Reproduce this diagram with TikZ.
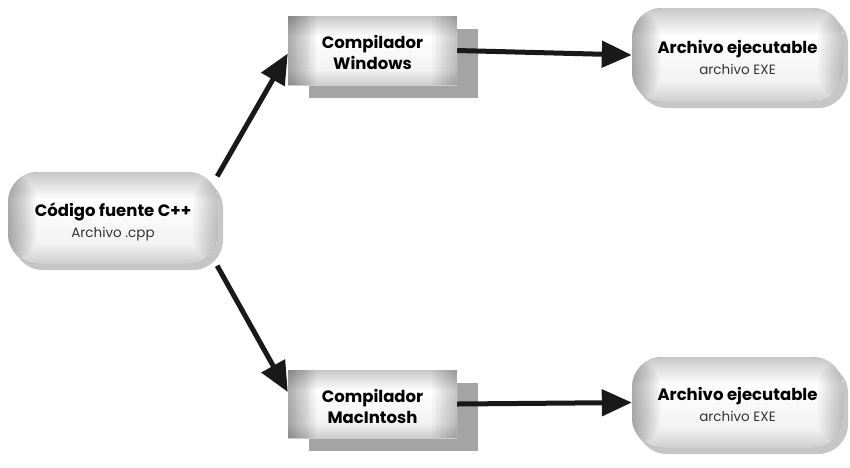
\documentclass[tikz,border=0pt]{standalone}
\usepackage{fontspec}
\setmainfont{Poppins}
\usetikzlibrary{arrows.meta,calc,shadows}
\pgfdeclareverticalshading{boxshade}{100bp}{color(0bp)=(black!60); color(10bp)=(black!40); color(36bp)=(black!5); color(60bp)=(white); color(84bp)=(black!35); color(100bp)=(black!60)}
\tikzset{
  base/.style={align=center, inner sep=0pt, font=\fontsize{16.5}{21}\selectfont},
  edges/.style={path picture={
     \foreach \i in {1,...,10}{
       \fill[black, opacity=0.035] (path picture bounding box.south west) rectangle ($(path picture bounding box.north west)+(\i*2.8pt,0)$);
       \fill[black, opacity=0.025] (path picture bounding box.south east) rectangle ($(path picture bounding box.north east)+(-\i*2.5pt,0)$);
     }}},
  pill/.style={base, rounded corners=30pt, shading=boxshade, edges,
     drop shadow={shadow xshift=5pt, shadow yshift=-6pt, fill=black!50, opacity=0.45}},
  cbox/.style={base, shading=boxshade, edges,
     drop shadow={shadow xshift=21pt, shadow yshift=-13pt, fill=black!55, opacity=0.65}},
  conn/.style={line width=5pt, draw=black!90, -{Triangle[length=30pt,width=26pt]}},
}
\newcommand{\ttl}[1]{{\bfseries #1}}
\newcommand{\sub}[1]{{\fontsize{13.5}{21}\selectfont\color{black!80}#1}}
\newcommand{\twol}[2]{\begin{tabular}{@{}c@{}}\rule{0pt}{24pt}#1\\#2\end{tabular}}
\begin{document}
\begin{tikzpicture}[x=1pt,y=1pt]
\useasboundingbox (0,0) rectangle (850,-467);
\node[pill, minimum width=210pt, minimum height=92pt] (src) at (113,-218)
  {\twol{\ttl{Código fuente C++}}{\sub{Archivo .cpp}}};
\node[cbox, minimum width=169pt, minimum height=69pt] (winc) at (372.5,-50.5)
  {\twol{\ttl{Compilador}}{\ttl{Windows}}};
\node[cbox, minimum width=169pt, minimum height=68pt] (macc) at (372.5,-404)
  {\twol{\ttl{Compilador}}{\ttl{MacIntosh}}};
\node[pill, minimum width=211pt, minimum height=94pt] (out1) at (737.5,-55)
  {\twol{\ttl{Archivo ejecutable}}{\sub{archivo EXE}}};
\node[pill, minimum width=211pt, minimum height=91pt] (out2) at (737.5,-402.5)
  {\twol{\ttl{Archivo ejecutable}}{\sub{archivo EXE}}};
\coordinate (mtip) at ($(macc.west)+(0,12)$);
\coordinate (wtip) at ($(winc.west)+(0,-3)$);
\draw[conn, shorten <=4pt] ($(src.north east)+(-3,-8)$) -- (wtip);
\draw[conn, shorten <=4pt] ($(src.south east)+(-3,2)$) -- (mtip);
\draw[conn] (winc.east) -- (out1.west);
\draw[conn] (macc.east) -- (out2.west);
\end{tikzpicture}
\end{document}
